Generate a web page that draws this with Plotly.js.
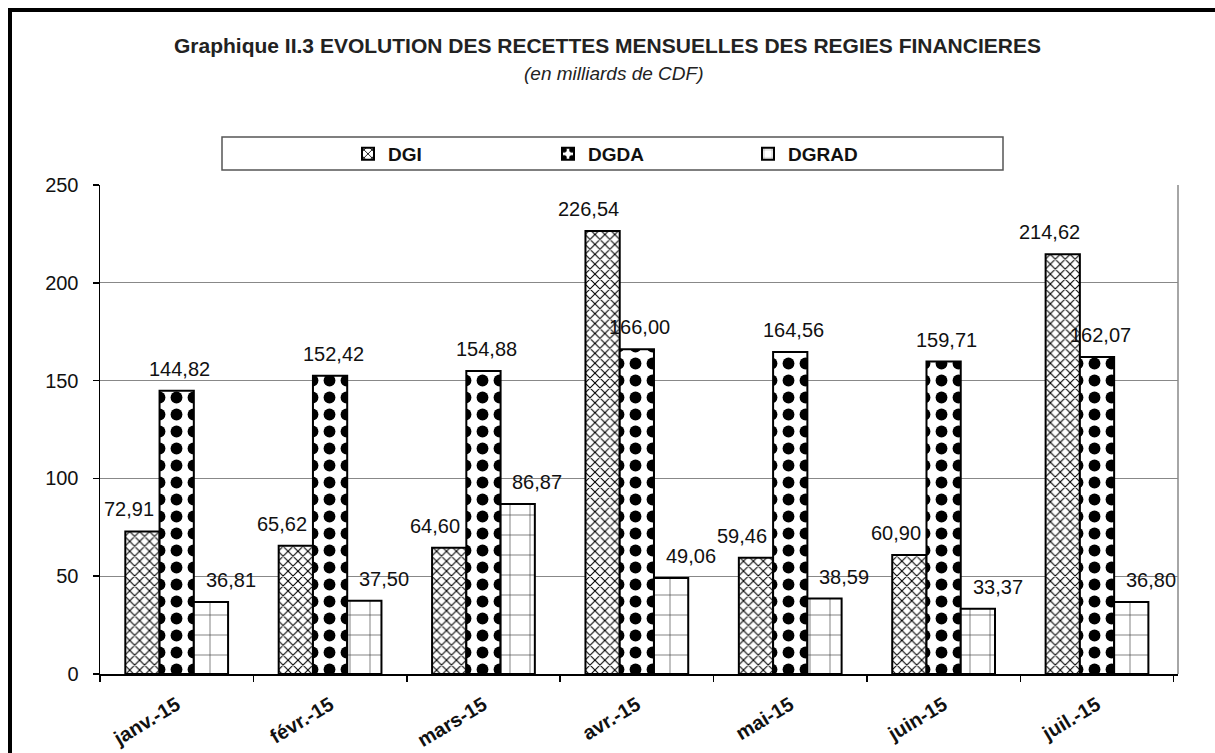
<!DOCTYPE html>
<html>
<head>
<meta charset="utf-8">
<script src="https://cdn.plot.ly/plotly-3.0.1.min.js"></script>
<style>
  html, body { margin: 0; padding: 0; background: #fff; }
  #chart { width: 1215px; height: 753px; }
</style>
</head>
<body>
<div id="chart"></div>
<script>
// ---- data ----
const months = ["janv.-15", "févr.-15", "mars-15", "avr.-15", "mai-15", "juin-15", "juil.-15"];
const seriesNames = ["DGI", "DGDA", "DGRAD"];
const dgi   = [72.91, 65.62, 64.60, 226.54, 59.46, 60.90, 214.62];
const dgda  = [144.82, 152.42, 154.88, 166.00, 164.56, 159.71, 162.07];
const dgrad = [36.81, 37.50, 86.87, 49.06, 38.59, 33.37, 36.80];
const yTicks = [0, 50, 100, 150, 200, 250];

const titleText = "Graphique II.3 EVOLUTION DES RECETTES MENSUELLES DES REGIES FINANCIERES";
const subtitleText = "(en milliards de CDF)";

// ---- styling ----
const seriesValues = [dgi, dgda, dgrad];
const patterns = [
  {shape: "x", size: 7, solidity: 0.28, fgcolor: "#000", bgcolor: "#fff"},
  {shape: ".", size: 17, solidity: 0.38, fgcolor: "#000", bgcolor: "#fff"},
  {shape: "+", size: 20, solidity: 0.06, fgcolor: "#000", bgcolor: "#fff", fgopacity: 0.8}
];
const labelXShift = [-48, 3, 54];
const numFont = "Liberation Sans, Arial, sans-serif";
const narrowFont = "Liberation Sans Narrow, Arial Narrow, Liberation Sans, Arial, sans-serif";

const traces = seriesValues.map((vals, i) => ({
  type: "bar",
  name: seriesNames[i],
  x: months,
  y: vals,
  marker: {
    color: "#fff",
    line: {color: "#000", width: 2},
    pattern: patterns[i]
  },
  hoverinfo: "skip"
}));

const fmt = v => v.toFixed(2).replace(".", ",");

// plot area: x 100..1178 px, y 185..674 px
const px2x = px => (px - 100) / 1078;
const px2y = py => (674 - py) / 489;

const annotations = [];
seriesValues.forEach((vals, i) => {
  vals.forEach((v, j) => {
    annotations.push({
      x: months[j], y: v, xref: "x", yref: "y",
      text: fmt(v), showarrow: false,
      xanchor: "center", yanchor: "middle",
      xshift: labelXShift[i], yshift: 22,
      font: {family: numFont, size: 20, color: "#111"}
    });
  });
});
annotations.push({
  xref: "paper", yref: "paper", x: px2x(613), y: px2y(74),
  xanchor: "center", yanchor: "middle", showarrow: false,
  text: "<i>" + subtitleText + "</i>",
  font: {family: narrowFont, size: 19, color: "#222"}
});

const shapes = [
  // legend box
  {type: "rect", xref: "paper", yref: "paper",
   x0: px2x(222), x1: px2x(1003), y0: px2y(170), y1: px2y(137),
   line: {color: "#555", width: 1.5}, fillcolor: "rgba(0,0,0,0)"},
  // right edge of plot area
  {type: "line", xref: "paper", yref: "paper", x0: 1, x1: 1, y0: 0, y1: 1,
   line: {color: "#888", width: 1.5}},
  // outer frame (top, left)
  {type: "line", xref: "paper", yref: "paper", x0: px2x(8), x1: px2x(1220), y0: px2y(10), y1: px2y(10),
   line: {color: "#000", width: 4}},
  {type: "line", xref: "paper", yref: "paper", x0: px2x(10), x1: px2x(10), y0: px2y(8), y1: px2y(760),
   line: {color: "#000", width: 4}}
];

const layout = {
  width: 1215, height: 753,
  margin: {l: 100, r: 37, t: 185, b: 79},
  paper_bgcolor: "#fff", plot_bgcolor: "#fff",
  title: {
    text: "<b>" + titleText + "</b>",
    font: {family: narrowFont, size: 21, color: "#222"},
    xref: "container", x: 0.5, xanchor: "center",
    yref: "container", y: 1 - 46/753, yanchor: "middle"
  },
  barmode: "group", bargap: 0.33, bargroupgap: 0,
  showlegend: true,
  legend: {
    orientation: "h",
    x: px2x(348), xanchor: "left",
    y: px2y(154), yanchor: "middle",
    bgcolor: "rgba(0,0,0,0)", borderwidth: 0,
    entrywidth: 155, entrywidthmode: "pixels",
    font: {family: numFont, size: 19, color: "#111", weight: "bold"},
    traceorder: "normal"
  },
  xaxis: {
    type: "category",
    showline: true, linecolor: "#000", linewidth: 1.5,
    ticks: "outside", tickson: "boundaries", ticklen: 6, tickcolor: "#000", tickwidth: 1.5,
    tickangle: -31, ticklabelstandoff: 10,
    tickfont: {family: numFont, size: 20, color: "#111", weight: "bold"},
    showgrid: false, zeroline: false, fixedrange: true
  },
  yaxis: {
    range: [0, 250], tickvals: yTicks, ticktext: yTicks.map(String),
    showline: true, linecolor: "#000", linewidth: 1.5,
    ticks: "outside", ticklen: 6, tickcolor: "#000", tickwidth: 1.5,
    ticklabelstandoff: 10,
    tickfont: {family: numFont, size: 20, color: "#111"},
    showgrid: true, gridcolor: "#888", gridwidth: 1.2,
    zeroline: false, fixedrange: true
  },
  annotations: annotations,
  shapes: shapes
};

Plotly.newPlot("chart", traces, layout, {displayModeBar: false, staticPlot: true});
</script>
</body>
</html>
